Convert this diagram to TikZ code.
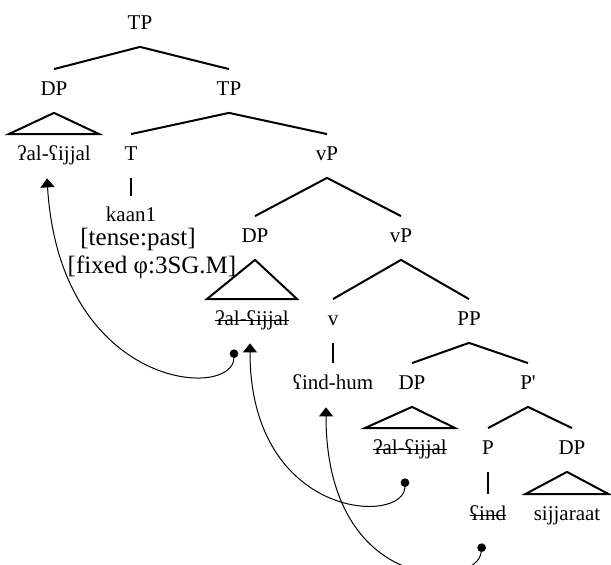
\documentclass[tikz,border=0pt]{standalone}
\usepackage{fontspec}
\setmainfont{Liberation Serif}
\usepackage{tikz}
\usetikzlibrary{arrows.meta}

\begin{document}
\begin{tikzpicture}[x=0.5pt, y=-0.5pt,
  font=\fontsize{10.5}{12.6}\selectfont,
  cat/.style={inner sep=0pt, text height=13pt, text depth=8.5pt, anchor=base},
  roof/.style={cat, inner xsep=4pt},
  word/.style={cat, text depth=0pt},
  feat/.style={inner sep=0pt, anchor=base, font=\fontsize{12.5}{15}\selectfont},
  branch/.style={line width=1pt},
  strike/.style={line width=0.6pt},
  move/.style={line width=0.5pt, {Circle[length=4.3pt]}-{Triangle[length=4.5pt,width=7pt]}}]

\useasboundingbox (0,0) rectangle (611,565);

% labels of the tree
\node[cat] (tp0) at (140,29.5) {TP};
\node[cat] (dp1) at (54,95.5) {DP};
\node[cat] (tp1) at (229,95.5) {TP};
\node[roof] (al1) at (54,160.5) {ʔal-ʕijjal};
\node[cat] (t) at (131,160.5) {T};
\node[cat] (vp1) at (327,160.5) {vP};
\node[word] (kaan) at (131,222) {kaan1};
\node[feat] (tense) at (138,245.5) {[tense:past]};
\node[feat] (phi) at (152,273.5) {[fixed φ:3SG.M]};
\node[cat] (dp2) at (255,242.5) {DP};
\node[cat] (vp2) at (401,242.5) {vP};
\node[roof] (al2) at (252,325.5) {ʔal-ʕijjal};
\node[cat] (v) at (333,325.5) {v};
\node[cat] (pp) at (469,325.5) {PP};
\node[cat] (indhum) at (333,389.5) {ʕind-hum};
\node[cat] (dp3) at (412,389.5) {DP};
\node[cat] (pbar) at (528,389.5) {P\textquotesingle};
\node[roof] (al3) at (410,454.5) {ʔal-ʕijjal};
\node[cat] (p) at (488,454.5) {P};
\node[cat] (dp4) at (572,454.5) {DP};
\node[cat] (ind) at (488,520.5) {ʕind};
\node[roof] (sij) at (567,520.5) {sijjaraat};

% branches
\draw[branch] (dp1.north) -- (tp0.south) -- (tp1.north);
\draw[branch] (t.north) -- (tp1.south) -- (vp1.north);
\draw[branch] (dp2.north) -- (vp1.south) -- (vp2.north);
\draw[branch] (v.north) -- (vp2.south) -- (pp.north);
\draw[branch] (dp3.north) -- (pp.south) -- (pbar.north);
\draw[branch] (p.north) -- (pbar.south) -- (dp4.north);
\draw[branch] (t.south) -- (kaan.north);
\draw[branch] (v.south) -- (indhum.north);
\draw[branch] (p.south) -- (ind.north);

% triangles
\draw[branch] (dp1.south) -- (al1.north east) -- (al1.north west) -- cycle;
\draw[branch] (dp2.south) -- (al2.north east) -- (al2.north west) -- cycle;
\draw[branch] (dp3.south) -- (al3.north east) -- (al3.north west) -- cycle;
\draw[branch] (sij.north |- dp4.south) -- (sij.north east) -- (sij.north west) -- cycle;

% deleted copies
\draw[strike] ([shift={(4pt,2.3pt)}]al2.base west) -- ([shift={(-4pt,2.3pt)}]al2.base east);
\draw[strike] ([shift={(4pt,2.3pt)}]al3.base west) -- ([shift={(-4pt,2.3pt)}]al3.base east);
\draw[strike] ([yshift=2.3pt]ind.base west) -- ([yshift=2.3pt]ind.base east);

% movement arrows
\draw[move] ([shift={(-18,6.5)}]al2.south) .. controls +(0,51) and +(13,212) .. ([shift={(-7,0.5)}]al1.south);
\draw[move] ([shift={(-5,6.5)}]al3.south) .. controls +(0,47) and +(0,177) .. ([shift={(-2,0.5)}]al2.south);
\draw[move] ([shift={(-6,5.5)}]ind.south) .. controls +(-4,47) and +(0,188) .. ([shift={(-7,0.5)}]indhum.south);
\end{tikzpicture}
\end{document}
